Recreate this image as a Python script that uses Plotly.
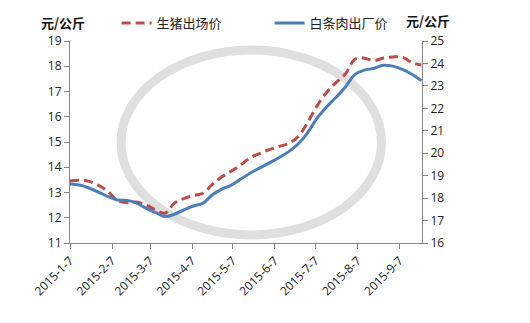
import plotly.graph_objects as go
import pandas as pd

dates = pd.date_range("2015-01-07", periods=38, freq="7D")

hog_price = [13.46, 13.48, 13.44, 13.28, 13.04, 12.68, 12.60, 12.62, 12.50, 12.32,
             12.18, 12.58, 12.76, 12.88, 12.97, 13.32, 13.62, 13.85, 14.10, 14.38,
             14.55, 14.70, 14.82, 14.94, 15.20, 15.75, 16.42, 16.95, 17.35, 17.69,
             18.28, 18.32, 18.22, 18.33, 18.37, 18.36, 18.15, 18.05]

pork_price = [18.63, 18.58, 18.45, 18.27, 18.07, 17.92, 17.90, 17.78, 17.55, 17.36,
              17.18, 17.28, 17.48, 17.65, 17.77, 18.15, 18.40, 18.58, 18.85, 19.12,
              19.35, 19.57, 19.80, 20.06, 20.40, 20.90, 21.55, 22.05, 22.48, 22.95,
              23.50, 23.70, 23.78, 23.92, 23.88, 23.74, 23.52, 23.23]

tick_dates = ["2015-01-07", "2015-02-07", "2015-03-07", "2015-04-07", "2015-05-07",
              "2015-06-07", "2015-07-07", "2015-08-07", "2015-09-07"]
tick_labels = ["2015-1-7", "2015-2-7", "2015-3-7", "2015-4-7", "2015-5-7",
               "2015-6-7", "2015-7-7", "2015-8-7", "2015-9-7"]

axis_color = "#868686"
font_tick = "Open Sans, DejaVu Sans, sans-serif"
font_cjk = "Noto Sans CJK SC"

fig = go.Figure()
fig.add_trace(go.Scatter(x=dates, y=hog_price, name="生猪出场价", mode="lines",
                         line=dict(color="#BE4B48", width=3, dash="9px,5px"),
                         line_shape="spline"))
fig.add_trace(go.Scatter(x=dates, y=pork_price, name="白条肉出厂价", mode="lines",
                         line=dict(color="#4A7EBB", width=3), yaxis="y2",
                         line_shape="spline"))

# watermark ring
fig.add_shape(type="circle", xref="paper", yref="paper",
              x0=0.145, x1=0.885, y0=0.04, y1=0.955,
              line=dict(color="rgba(215,215,215,0.8)", width=9), layer="below")

fig.update_layout(
    width=530, height=323,
    margin=dict(l=70, r=108, t=41, b=80, autoexpand=False),
    paper_bgcolor="white", plot_bgcolor="white",
    showlegend=True,
    legend=dict(orientation="h", xref="container", yref="container",
                x=0.22, y=1 - 23 / 323, xanchor="left", yanchor="middle",
                font=dict(family=font_cjk, size=13, color="#222"),
                entrywidth=108, bgcolor="rgba(0,0,0,0)", itemwidth=30),
    xaxis=dict(type="date", range=["2015-01-07", "2015-09-23 12:00"],
               tickvals=tick_dates, ticktext=tick_labels, tickangle=-45,
               ticks="outside", ticklen=5, tickcolor=axis_color,
               showline=True, linecolor=axis_color, linewidth=1,
               showgrid=False, zeroline=False,
               tickfont=dict(family=font_tick, size=12, color="#222")),
    yaxis=dict(range=[11, 19], dtick=1, ticks="outside", ticklen=5,
               tickcolor=axis_color, showline=True, linecolor=axis_color,
               showgrid=False, zeroline=False,
               tickfont=dict(family=font_tick, size=12, color="#222")),
    yaxis2=dict(range=[16, 25], dtick=1, overlaying="y", side="right",
                ticks="outside", ticklen=5, tickcolor=axis_color,
                showline=True, linecolor=axis_color, showgrid=False, zeroline=False,
                tickfont=dict(family=font_tick, size=12, color="#222")),
    annotations=[
        dict(text="<b>元/公斤</b>", xref="paper", yref="paper", x=-0.021, y=1.0,
             yshift=19, showarrow=False, xanchor="center", yanchor="middle",
             borderpad=0, font=dict(family=font_cjk, size=13, color="#111")),
        dict(text="<b>元/公斤</b>", xref="paper", yref="paper", x=1.016, y=1.0,
             yshift=21, showarrow=False, xanchor="center", yanchor="middle",
             borderpad=0, font=dict(family=font_cjk, size=13, color="#111")),
    ],
)

fig.write_html("out.html")
